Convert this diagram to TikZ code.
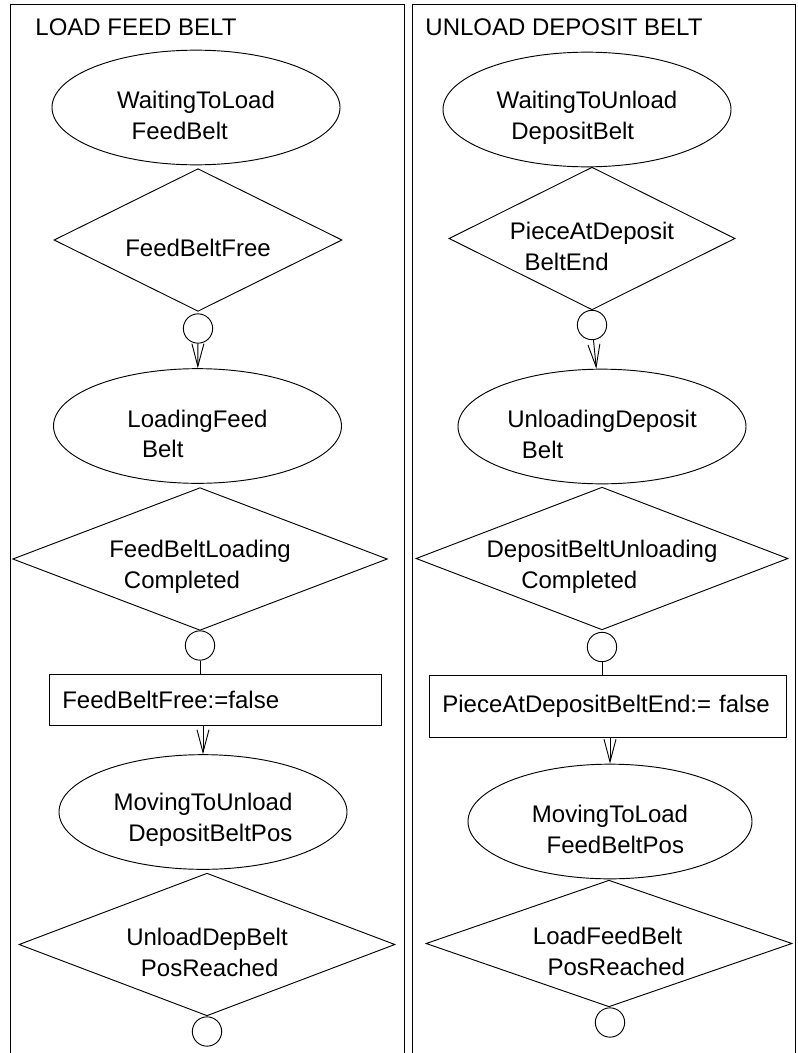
\documentclass[tikz,border=0pt]{standalone}
\usepackage{fontspec}
\setmainfont{Liberation Sans}
\usetikzlibrary{arrows.meta, shapes.geometric}
\tikzset{
  every picture/.style={line width=0.7pt, font=\fontsize{18}{23}\selectfont},
  arrow/.style={-{Straight Barb[length=17pt, width=9pt]}},
  title/.style={anchor=base west, inner sep=0pt},
  txt/.style={align=left, yshift=-6pt, inner sep=0pt},
}
\newcommand{\ind}{\hspace*{11pt}}

\begin{document}
\begin{tikzpicture}[x=0.75pt, y=-0.75pt,
  state/.style={ellipse, draw, inner sep=0pt, minimum width=216pt, minimum height=86pt},
  cond/.style={diamond, draw, inner sep=0pt, minimum width=#1, minimum height=107pt},
  cond/.default=216pt,
  junc/.style={circle, draw, inner sep=0pt, minimum size=22pt},
  act/.style={rectangle, draw, align=left, inner xsep=10pt, inner ysep=0pt}]
  \useasboundingbox (0,0) rectangle (798,1053);
  % frames
  \draw (10,1053) -- (10,4) -- (404,4) -- (404,1053);
  \draw (412,1053) -- (412,4) -- (795,4) -- (795,1053);
  \node[title] (tload) at (35,35) {LOAD FEED BELT};
  \node[title] (tunload) at (425,35) {UNLOAD DEPOSIT BELT};

  % load feed belt
  \node[state, label={[txt, name=waitloadtxt]center:{WaitingToLoad\\\ind FeedBelt}}] (waitload) at (196,107.5) {};
  \node[cond, label={[txt, name=feedfreetxt]center:FeedBeltFree}] (feedfree) at (198,240) {};
  \node[junc] (j1) at (198,328.5) {};
  \node[state, label={[txt, name=loadingtxt]center:{LoadingFeed\\\ind Belt}}] (loading) at (197.5,426) {};
  \node[cond=281pt, label={[txt, name=loaddonetxt]center:{FeedBeltLoading\\\ind Completed}}] (loaddone) at (200,559) {};
  \node[junc] (j2) at (200,645.5) {};
  \node[act, text width=229pt, minimum height=38.25pt] (setfree) at (215,699.5) {FeedBeltFree:=false};
  \node[state, label={[txt, name=tounloadtxt]center:{MovingToUnload\\\ind DepositBeltPos}}] (tounload) at (203,812) {};
  \node[cond=282pt, label={[txt, name=unloadpostxt]center:{UnloadDepBelt\\\ind PosReached}}] (unloadpos) at (207,944.5) {};
  \node[junc] (j3) at (207,1031.5) {};

  \draw[arrow] (j1) -- (loading);
  \draw (j2) -- (j2 |- setfree.north);
  \draw[arrow] (setfree.south -| tounload) -- (tounload);

  % unload deposit belt
  \node[state, label={[txt, name=waitunloadtxt]center:{WaitingToUnload\\\ind DepositBelt}}] (waitunload) at (587,109.5) {};
  \node[cond=214.5pt, label={[txt, name=pieceendtxt]center:{PieceAtDeposit\\\ind BeltEnd}}] (pieceend) at (592,238.5) {};
  \node[junc] (j4) at (592,325) {};
  \node[state, label={[txt, name=unloadingtxt]center:{UnloadingDeposit\\\ind Belt}}] (unloading) at (602,426.5) {};
  \node[cond=279pt, label={[txt, name=unloaddonetxt]center:{DepositBeltUnloading\\\hspace*{26pt}Completed}}] (unloaddone) at (602,558.5) {};
  \node[junc] (j5) at (602,647) {};
  \node[act, text width=247.75pt, minimum height=46.5pt] (setpiece) at (607.5,706) {PieceAtDepositBeltEnd:= false};
  \node[state, minimum width=213pt, label={[txt, name=toloadtxt]center:{MovingToLoad\\\ind FeedBeltPos}}] (toload) at (610,821.5) {};
  \node[cond=274.5pt, minimum height=95pt, label={[txt, name=loadpostxt]center:{LoadFeedBelt\\\ind PosReached}}] (loadpos) at (609,943.5) {};
  \node[junc] (j6) at (610,1022.5) {};

  \draw[arrow] (j4) -- (unloading);
  \draw (j5) -- (j5 |- setpiece.north);
  \draw[arrow] (setpiece.south -| toload) -- (toload);
\end{tikzpicture}
\end{document}
